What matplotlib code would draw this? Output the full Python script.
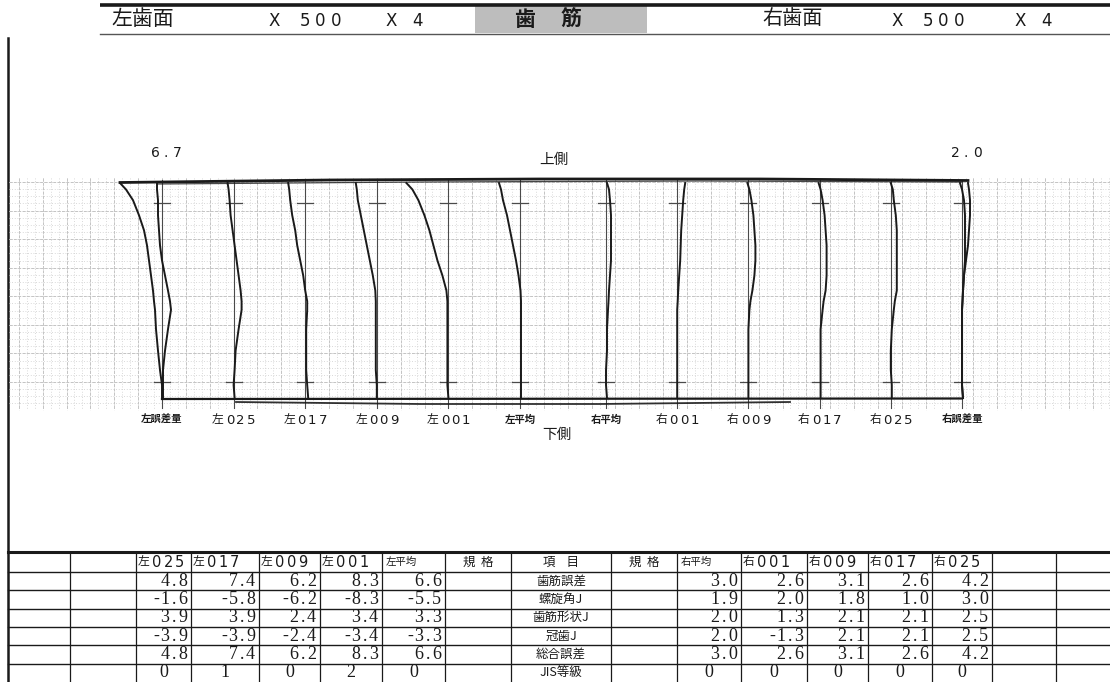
import matplotlib
matplotlib.use("Agg")
import matplotlib.pyplot as plt
from matplotlib.patches import Rectangle
from matplotlib.collections import LineCollection
import numpy as np

# ---------------- data ----------------
trace_labels = ["左誤差量", "左025", "左017", "左009", "左001", "左平均",
                "右平均", "右001", "右009", "右017", "右025", "右誤差量"]
# position along face width, % from upper side (上側) to lower side (下側)
face_pos = [0, 3, 8, 15, 22, 29, 36, 43, 50, 55, 59, 68, 78, 87, 94, 100]
# lead deviation traces in µm (positive = to the right)
dev_left_err_a = [-8.4, -7.2, -5.8, -4.6, -3.6, -3.0, -2.6, -2.2, -1.8, -1.6, -1.4, -1.2, -0.8, -0.4, 0.0, 0.0]
dev_left_err_b = [-1.0, -1.0, -0.8, -0.8, -0.6, -0.4, 0.0, 0.6, 1.2, 1.6, 1.8, 1.2, 0.6, 0.2, 0.2, 0.2]
dev_left_025 = [-1.2, -1.0, -0.8, -0.6, -0.2, 0.2, 0.6, 1.0, 1.4, 1.6, 1.6, 1.0, 0.4, 0.2, 0.0, 0.2]
dev_left_017 = [-3.4, -3.2, -3.0, -2.6, -2.0, -1.6, -1.0, -0.4, 0.0, 0.4, 0.4, 0.2, 0.2, 0.2, 0.4, 0.6]
dev_left_009 = [-4.2, -4.0, -3.8, -3.2, -2.6, -2.0, -1.4, -0.8, -0.3, -0.2, -0.2, -0.2, -0.2, -0.2, 0.0, 0.0]
dev_left_001 = [-8.4, -7.2, -6.0, -4.8, -3.8, -3.0, -2.2, -1.2, -0.4, -0.2, -0.2, -0.2, -0.2, -0.2, -0.2, 0.0]
dev_left_avg = [-4.2, -3.8, -3.4, -2.6, -2.0, -1.4, -0.8, -0.3, 0.1, 0.2, 0.2, 0.2, 0.2, 0.2, 0.2, 0.2]
dev_right_avg = [0.2, 0.6, 0.8, 1.0, 1.0, 1.0, 1.0, 0.8, 0.6, 0.5, 0.4, 0.2, 0.2, 0.0, 0.0, 0.2]
dev_right_001 = [1.6, 1.4, 1.2, 1.0, 0.8, 0.7, 0.6, 0.4, 0.2, 0.1, 0.0, 0.0, 0.0, 0.0, 0.0, 0.0]
dev_right_009 = [-0.2, 0.2, 0.6, 1.0, 1.2, 1.4, 1.4, 1.2, 0.8, 0.4, 0.2, 0.0, 0.0, 0.0, 0.0, 0.0]
dev_right_017 = [-0.2, 0.2, 0.6, 1.0, 1.2, 1.4, 1.4, 1.4, 1.2, 0.8, 0.6, 0.2, 0.2, 0.2, 0.2, 0.2]
dev_right_025 = [0.0, 0.4, 0.6, 1.0, 1.2, 1.2, 1.2, 1.2, 1.2, 0.8, 0.6, 0.2, 0.0, 0.0, 0.2, 0.2]
dev_right_err_a = [1.2, 1.4, 1.6, 1.6, 1.4, 1.2, 0.8, 0.4, 0.2, 0.1, 0.0, 0.0, 0.0, 0.0, 0.0, 0.2]
dev_right_err_b = [-0.4, 0.0, 0.4, 0.6, 0.6, 0.6, 0.6, 0.4, 0.2, 0.1, 0.0, 0.0, 0.0, 0.0, 0.0, 0.2]

left_err_value = "6.7"
right_err_value = "2.0"

left_cols = ["左025", "左017", "左009", "左001", "左平均"]
right_cols = ["右平均", "右001", "右009", "右017", "右025"]
items = ["歯筋誤差", "螺旋角J", "歯筋形状J", "冠歯J", "総合誤差", "JIS等級"]
left_vals = [[4.8, 7.4, 6.2, 8.3, 6.6],
             [-1.6, -5.8, -6.2, -8.3, -5.5],
             [3.9, 3.9, 2.4, 3.4, 3.3],
             [-3.9, -3.9, -2.4, -3.4, -3.3],
             [4.8, 7.4, 6.2, 8.3, 6.6]]
left_grade = [0, 1, 0, 2, 0]
right_vals = [[3.0, 2.6, 3.1, 2.6, 4.2],
              [1.9, 2.0, 1.8, 1.0, 3.0],
              [2.0, 1.3, 2.1, 2.1, 2.5],
              [2.0, -1.3, 2.1, 2.1, 2.5],
              [3.0, 2.6, 3.1, 2.6, 4.2]]
right_grade = [0, 0, 0, 0, 0]

# ---------------- canvas ----------------
W, H = 1110, 682
fig = plt.figure(figsize=(W / 100, H / 100), dpi=100)
ax = fig.add_axes([0, 0, 1, 1])
ax.set_xlim(0, W)
ax.set_ylim(H, 0)
ax.axis("off")

CJK = ["Noto Sans CJK JP", "DejaVu Sans"]
INK = "#1a1a1a"


def spaced(x, y, s, pitch, size, family="DejaVu Sans", ha="center", **kw):
    total = pitch * len(s)
    start = {"center": x - total / 2, "left": x, "right": x - total}[ha]
    for i, ch in enumerate(s):
        ax.text(start + pitch * (i + 0.5), y, ch, ha="center", va="center",
                fontsize=size, family=family, color=INK, **kw)


def label(x, y, s, size=9.5, pitch=10.5, cjk_w=14):
    # CJK prefix followed by wide-pitched digits
    head = "".join(c for c in s if not c.isdigit())
    digits = "".join(c for c in s if c.isdigit())
    if not digits:
        ax.text(x, y, s, ha="center", va="center", fontsize=7.5, family=CJK,
                color=INK, fontweight="bold")
        return
    total = cjk_w + pitch * len(digits)
    start = x - total / 2
    ax.text(start + cjk_w / 2, y, head, ha="center", va="center",
            fontsize=size - 1, family=CJK, color=INK)
    spaced(start + cjk_w, y, digits, pitch, size, ha="left")


# ---------------- header ----------------
ax.plot([100, W], [5, 5], color=INK, lw=2.6, solid_capstyle="butt")
ax.plot([100, W], [34, 34], color="#555555", lw=1.0)
ax.add_patch(Rectangle((475, 6), 172, 27, facecolor="#bdbdbd", edgecolor="none"))
ax.text(524, 19.5, "歯", fontsize=15, family=CJK, ha="center", va="center",
        color=INK, fontweight="bold")
ax.text(571, 19.5, "筋", fontsize=15, family=CJK, ha="center", va="center",
        color=INK, fontweight="bold")
ax.text(111, 19, "左歯面", fontsize=15, family=CJK, ha="left", va="center", color=INK)
ax.text(762, 19, "右歯面", fontsize=14.5, family=CJK, ha="left", va="center", color=INK)
spaced(266, 21, "X 500", 15.5, 12, ha="left")
spaced(384, 21, "X 4", 13.5, 12, ha="left")
spaced(889, 21, "X 500", 15.5, 12, ha="left")
spaced(1013, 21, "X 4", 13.5, 12, ha="left")

# page left border
ax.plot([8, 8], [38, H], color=INK, lw=1.8)

# ---------------- chart grid ----------------
GX0, GX1, GY0, GY1 = 9, W, 178, 410
pitch_l = 71.6
pitch_r = 71.2
ref_x = [162 + i * pitch_l for i in range(6)] + [606 + i * pitch_r for i in range(6)]
maj = pitch_l / 3
xs_major = np.arange(162 - maj * 6, GX1, maj)
xs_major = xs_major[xs_major >= GX0]
xs_minor = np.arange(162 - maj * 6, GX1, maj / 3)
xs_minor = xs_minor[xs_minor >= GX0]
ys_major = np.arange(182, GY1, 200 / 7)
ys_minor = np.arange(182 - 200 / 28, GY1, 200 / 28)
ys_minor = ys_minor[ys_minor >= GY0]

minor_segs = [[(x, GY0), (x, GY1)] for x in xs_minor] + [[(GX0, y), (GX1, y)] for y in ys_minor]
ax.add_collection(LineCollection(minor_segs, colors="#cdcdcd", linewidths=0.6,
                                 linestyles=[(0, (1, 2.2))]))
major_segs = [[(x, GY0), (x, GY1)] for x in xs_major] + [[(GX0, y), (GX1, y)] for y in ys_major]
ax.add_collection(LineCollection(major_segs, colors="#c4c4c4", linewidths=0.7,
                                 linestyles=[(0, (3, 1.5))]))

# ---------------- reference lines and ticks ----------------
Y_TOP, Y_BOT = 183, 398
for x in ref_x:
    ax.plot([x, x], [180, 408], color="#4a4a4a", lw=0.8)
    for yt in (203, 382):
        ax.plot([x - 8, x + 8], [yt, yt], color="#4a4a4a", lw=0.9)

# connecting pen lines
ax.plot([120, 330, 540, 760, 968], [182.5, 180, 179, 179, 180.5], color=INK, lw=2.0)
ax.plot([157, 420, 700, 962], [184, 182, 181, 182], color=INK, lw=0.9, alpha=0.8)
ax.plot([162, 962], [399, 398.5], color=INK, lw=1.6)
ax.plot([236, 420, 600, 790], [402, 404, 404, 402], color=INK, lw=1.3, alpha=0.9)

# ---------------- traces ----------------
PX_PER_UM = 5.0
ypos = [Y_TOP + p / 100 * (Y_BOT - Y_TOP) for p in face_pos]
traces = [(0, dev_left_err_a), (0, dev_left_err_b), (1, dev_left_025), (2, dev_left_017),
          (3, dev_left_009), (4, dev_left_001), (5, dev_left_avg), (6, dev_right_avg),
          (7, dev_right_001), (8, dev_right_009), (9, dev_right_017), (10, dev_right_025),
          (11, dev_right_err_a), (11, dev_right_err_b)]
for idx, dev in traces:
    xs = [ref_x[idx] + d * PX_PER_UM for d in dev]
    ax.plot(xs, ypos, color=INK, lw=1.4, solid_joinstyle="round")

# ---------------- chart texts ----------------
spaced(166, 153, left_err_value, 11, 10, ha="center")
spaced(966, 153, right_err_value, 11, 10, ha="center")
ax.text(554, 160, "上側", fontsize=10.5, family=CJK, ha="center", va="center", color=INK)
ax.text(557, 435, "下側", fontsize=10.5, family=CJK, ha="center", va="center", color=INK)
for x, s in zip(ref_x, trace_labels):
    label(x, 420, s)

# ---------------- table ----------------
col_edges = [8, 70, 136, 191, 259, 320, 382, 445, 511, 611, 677, 741, 807, 868, 932, 992, 1056, W]
row_edges = [552, 572, 590.3, 608.7, 627, 645.3, 663.7, 682]
L0 = 2   # first left data column
R0 = 10  # first right data column
ax.plot([8, W], [552, 552], color=INK, lw=2.2)
for y in row_edges[1:-1]:
    ax.plot([8, W], [y, y], color=INK, lw=1.0)
for x in col_edges[1:-1]:
    ax.plot([x, x], [552, H], color=INK, lw=0.9)

hy = (row_edges[0] + row_edges[1]) / 2


def header_cell(x0, s):
    if s.endswith("平均"):
        ax.text(x0 + 4, hy, s, fontsize=7.5, family=CJK, ha="left", va="center", color=INK)
    else:
        ax.text(x0 + 8, hy, s[0], fontsize=8.5, family=CJK, ha="center", va="center", color=INK)
        spaced(x0 + 15, hy + 0.5, s[1:], 11.5, 10.5, ha="left")


for j, s in enumerate(left_cols):
    header_cell(col_edges[L0 + j], s)
for j, s in enumerate(right_cols):
    header_cell(col_edges[R0 + j], s)
ax.text((col_edges[7] + col_edges[8]) / 2, hy, "規  格", fontsize=9, family=CJK,
        ha="center", va="center", color=INK)
ax.text((col_edges[8] + col_edges[9]) / 2, hy, "項    目", fontsize=9, family=CJK,
        ha="center", va="center", color=INK)
ax.text((col_edges[9] + col_edges[10]) / 2, hy, "規  格", fontsize=9, family=CJK,
        ha="center", va="center", color=INK)

SER = "Liberation Serif"
for r in range(6):
    yc = (row_edges[r + 1] + row_edges[r + 2]) / 2
    ax.text((col_edges[8] + col_edges[9]) / 2, yc, items[r], fontsize=9, family=CJK,
            ha="center", va="center", color=INK)
    for j in range(5):
        l_lo, l_hi = col_edges[L0 + j], col_edges[L0 + j + 1]
        r_lo, r_hi = col_edges[R0 + j], col_edges[R0 + j + 1]
        if r < 5:
            spaced(l_hi - 4, yc, f"{left_vals[r][j]:.1f}", 8.8, 13, family=SER, ha="right")
            spaced(r_hi - 4, yc, f"{right_vals[r][j]:.1f}", 8.8, 13, family=SER, ha="right")
        else:
            ax.text((l_lo + l_hi) / 2, yc, str(left_grade[j]), fontsize=13,
                    family=SER, ha="center", va="center", color=INK)
            ax.text((r_lo + r_hi) / 2, yc, str(right_grade[j]), fontsize=13,
                    family=SER, ha="center", va="center", color=INK)

fig.savefig("out.png", dpi=100)
